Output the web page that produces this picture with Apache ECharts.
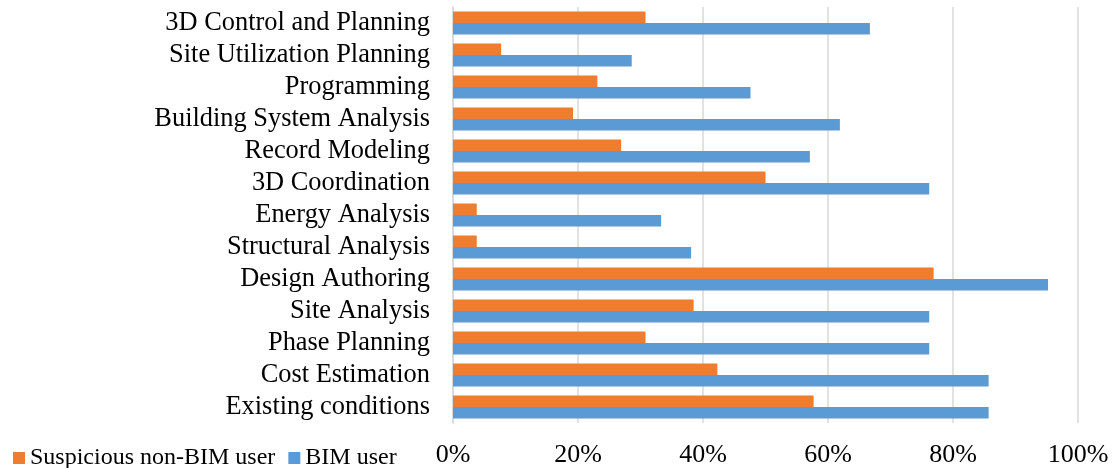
<!DOCTYPE html>
<html>
<head>
<meta charset="utf-8">
<script src="https://cdn.jsdelivr.net/npm/echarts@6/dist/echarts.min.js"></script>
<style>html,body{margin:0;padding:0;background:#fff}#c{width:1114px;height:468px}</style>
</head>
<body>
<div id="c"></div>
<script>
var categories = ["Existing conditions","Cost Estimation","Phase Planning","Site Analysis","Design Authoring","Structural Analysis","Energy Analysis","3D Coordination","Record Modeling","Building System Analysis","Programming","Site Utilization Planning","3D Control and Planning"];
var nonBimUser = [57.7, 42.3, 30.8, 38.5, 76.9, 3.8, 3.8, 50.0, 26.9, 19.2, 23.1, 7.7, 30.8];
var bimUser = [85.7, 85.7, 76.2, 76.2, 95.2, 38.1, 33.3, 76.2, 57.1, 61.9, 47.6, 28.6, 66.7];
var xTicks = [0, 20, 40, 60, 80, 100];

var font = "'Liberation Serif', 'Times New Roman', serif";
var chart = echarts.init(document.getElementById('c'));
chart.setOption({
  animation: false,
  textStyle: {fontFamily: font},
  legend: {
    left: 8, top: 441,
    itemWidth: 12, itemHeight: 12, itemGap: 13,
    icon: 'rect',
    textStyle: {fontFamily: font, fontSize: 24, color: '#000', padding: [0,0,0,0]},
    data: ['Suspicious non-BIM user', 'BIM user']
  },
  grid: {left: 453, right: 36, top: 7, bottom: 45, containLabel: false},
  xAxis: {
    type: 'value', min: xTicks[0], max: xTicks[xTicks.length-1], interval: 20,
    axisLabel: {formatter: '{value}%', fontFamily: font, fontSize: 26, color: '#000', margin: 19},
    axisLine: {show: false}, axisTick: {show: false},
    splitLine: {lineStyle: {color: '#d9d9d9', width: 1.5}}
  },
  yAxis: {
    type: 'category', data: categories,
    axisLabel: {fontFamily: font, fontSize: 26.4, color: '#000', margin: 23, interval: 0, padding: [4,0,0,0]},
    axisLine: {lineStyle: {color: '#d9d9d9', width: 1.5}},
    axisTick: {show: false}
  },
  series: [
    {name: 'Suspicious non-BIM user', type: 'bar', data: nonBimUser, barGap: '0%', barCategoryGap: '28%',
     itemStyle: {color: '#ED7D31'}},
    {name: 'BIM user', type: 'bar', data: bimUser, barGap: '0%', barCategoryGap: '28%',
     itemStyle: {color: '#5B9BD5'}}
  ]
});
</script>
</body>
</html>
